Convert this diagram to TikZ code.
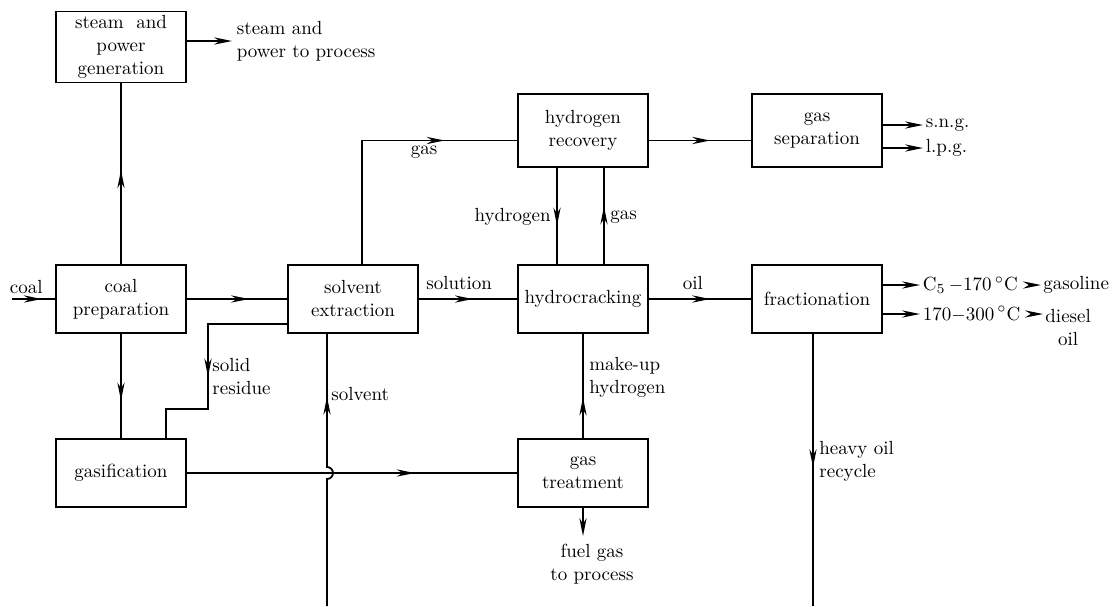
\documentclass[tikz,border=0pt]{standalone}
\usepackage{tikz}
\usetikzlibrary{arrows.meta,positioning,decorations.markings}

\begin{document}
\begin{tikzpicture}[
  x=0.5pt, y=-0.5pt,
  font=\fontsize{9.5}{11.5}\selectfont,
  unit/.style={draw, line width=0.9pt, minimum width=65pt,
               minimum height=34pt, inner sep=2pt, align=center},
  tallunit/.style={unit, minimum height=36.5pt},
  flowedge/.style={line width=0.9pt, postaction={decorate},
    decoration={markings,
      mark=at position #1 with {\arrow{Stealth[length=9pt,width=3.6pt]}}}},
  flowedge/.default=0.6,
  outedge/.style={line width=0.9pt, -{Stealth[length=9pt,width=3.6pt]}},
  lbl/.style={inner sep=2pt, align=left}
]
\useasboundingbox (0,0) rectangle (1115,606);

%% ===== process units =====
\node[unit] (steam) at (121,47) {steam\ \ and\\power\\generation};
\node[unit] (coalprep) at (121,299) {coal\\preparation};
\node[unit] (gasif) at (121,473) {gasification};
\node[unit] (solvext) at (353,299) {solvent\\extraction};
\node[tallunit] (h2rec) at (583,130.5) {hydrogen\\recovery};
\node[unit] (hcrack) at (583,299) {hydrocracking};
\node[unit] (gastreat) at (583,473) {gas\\treatment};
\node[tallunit] (gassep) at (817,130.5) {gas\\separation};
\node[unit] (fract) at (817,299) {fractionation};

%% ===== free ends =====
\coordinate (coalin) at (12,299);
\coordinate (steamout) at (232,41);
\coordinate (sngout) at (923,125);
\coordinate (lpgout) at (923,148);
\coordinate (c5out) at (920,285);
\coordinate (d170out) at (920,314);
\coordinate (fuelout) at (583,536);
\coordinate (solvin) at (327,606);
\coordinate (recycleout) at (813,606);

%% ===== coal side =====
\draw[flowedge=0.69] (coalin) -- (coalprep)
  node[lbl, pos=0.33, above] (coallbl) {coal};
\draw[flowedge=0.52] (coalprep) -- (steam);
\draw[outedge] (steamout -| steam.east) -- (steamout)
  node[lbl, right] (steamlbl) {steam and\\power to process};
\draw[flowedge=0.64] (coalprep) -- (gasif);
\draw[flowedge=0.62] (coalprep) -- (solvext);
\draw[flowedge=0.56] ([yshift=5pt]solvext.south west) -| (208,409)
  -| ([xshift=22.5pt]gasif.north);
\node[lbl, right] (solidlbl) at (208,377) {solid\\residue};

%% ===== extraction and hydrogen loop =====
\draw[flowedge=0.74] ([xshift=4.5pt]solvext.north) |- ([yshift=-5pt]h2rec.west)
  node[lbl, pos=0.7, below] (gaslbl) {gas};
\draw[flowedge=0.55] (solvext) -- (hcrack)
  node[lbl, pos=0.41, above=2pt] (sollbl) {solution};
\draw[flowedge=0.6] ([xshift=-13pt]h2rec.south) -- ([xshift=-13pt]hcrack.north);
\node[lbl, left] (h2lbl) at (555,217) {hydrogen};
\draw[flowedge=0.6] ([xshift=10.5pt]hcrack.north) -- ([xshift=10.5pt]h2rec.south);
\node[lbl, right] (gasuplbl) at (606,217) {gas};
\draw[flowedge=0.6] ([yshift=-5pt]h2rec.east) -- ([yshift=-5pt]gassep.west);
\draw[outedge] (sngout -| gassep.east) -- (sngout)
  node[lbl, right, inner sep=1pt] (snglbl) {s.n.g.};
\draw[outedge] (lpgout -| gassep.east) -- (lpgout)
  node[lbl, right, inner sep=1pt] (lpglbl) {l.p.g.};

%% ===== products =====
\draw[flowedge=0.6] (hcrack) -- (fract)
  node[lbl, pos=0.43, above=2pt] (oillbl) {oil};
\draw[outedge] (c5out -| fract.east) -- (c5out)
  node[lbl, right, inner sep=1pt] (c5lbl) {C$_5$\,{$-$}170\,$^{\circ}$C};
\node[lbl, anchor=west, inner sep=1pt] (gasolbl) at (1041,285) {gasoline};
\draw[outedge, shorten <=6pt] (c5lbl) -- (gasolbl);
\draw[outedge] (d170out -| fract.east) -- (d170out)
  node[lbl, right, inner sep=1pt] (t170lbl) {170{$-$}300\,$^{\circ}$C};
\node[lbl, anchor=north west, align=center, inner sep=1pt] (diesellbl) at (1043,307) {diesel\\oil};
\draw[outedge, shorten <=4pt] (t170lbl) -- (t170lbl -| diesellbl.west);
\draw[flowedge=0.49] (fract.south -| recycleout) -- (recycleout);
\node[lbl, right] (recyclelbl) at (815,461) {heavy oil\\recycle};

%% ===== gas treatment and solvent =====
\draw[flowedge=0.69] (gasif) -- (gastreat);
\draw[flowedge=0.39] (gastreat) -- (hcrack);
\node[lbl, right] (makeuplbl) at (585,377) {make-up\\hydrogen};
\draw[outedge] (gastreat) -- (fuelout);
\node[lbl, below, align=center] (fuellbl) at (592,540) {fuel gas\\to process};
\draw[flowedge=0.775] (solvin) -- (327,479) arc[start angle=-90, end angle=90, radius=3pt]
  -- ([xshift=-13pt]solvext.south);
\node[lbl, right] (solvlbl) at (327,394) {solvent};

\end{tikzpicture}
\end{document}
